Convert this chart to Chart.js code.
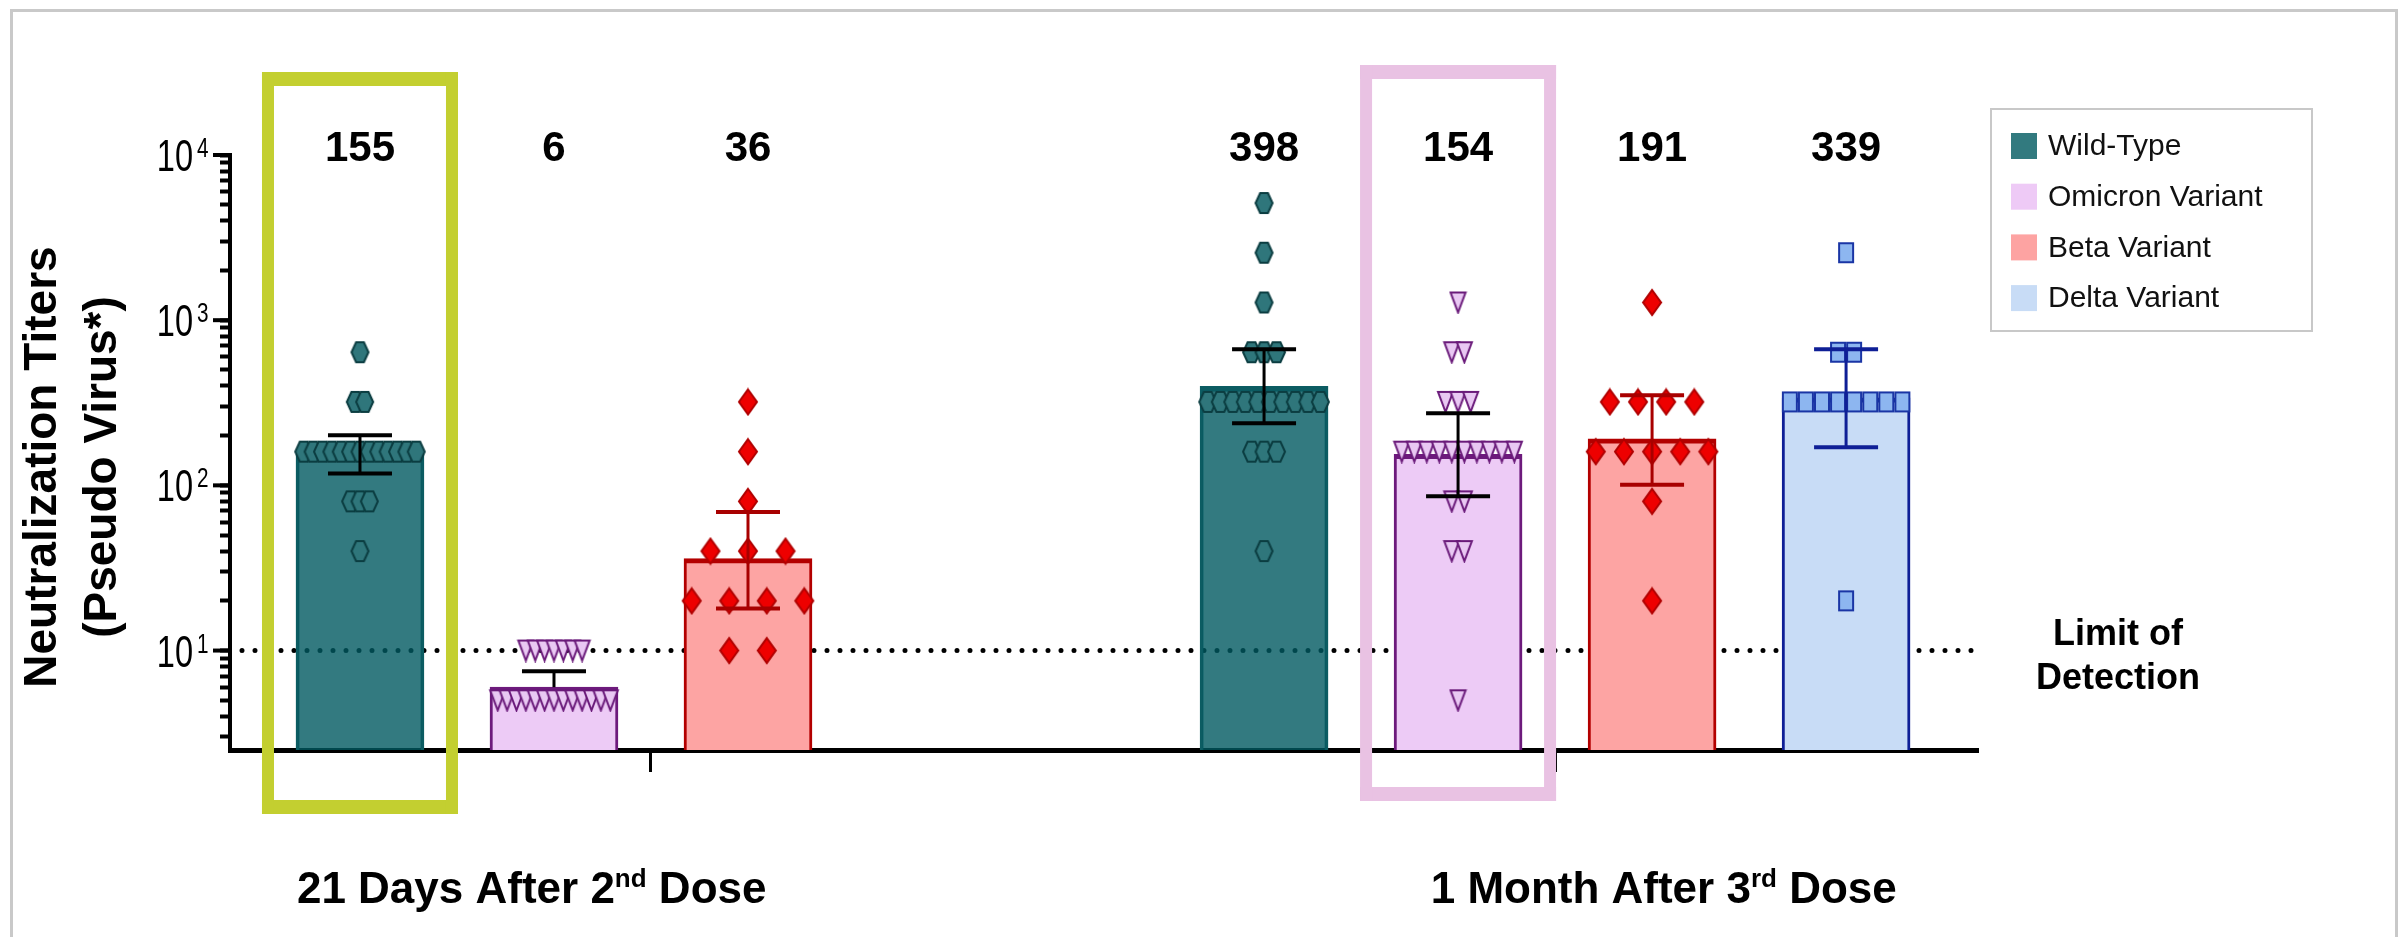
<!DOCTYPE html>
<html><head><meta charset="utf-8">
<script src="https://cdn.jsdelivr.net/npm/chart.js@4.4.1/dist/chart.umd.min.js"></script>
<style>
html,body{margin:0;padding:0;background:#fff;overflow:hidden;}
#wrap{position:relative;width:2407px;height:937px;}
#frame{position:absolute;left:10px;top:9px;width:2388px;height:1000px;border:3px solid #c9c9c9;box-sizing:border-box;pointer-events:none;}
canvas{position:absolute;left:0;top:0;}
</style></head><body>
<div id="wrap"><canvas id="c" width="2407" height="937"></canvas><div id="frame"></div></div>
<script>
// ---------- data ----------
const groups = ['21 Days After 2nd Dose', '1 Month After 3rd Dose'];
const groupLabelParts = [['21 Days After 2', 'nd', ' Dose'], ['1 Month After 3', 'rd', ' Dose']];
const seriesNames = ['Wild-Type', 'Omicron Variant', 'Beta Variant', 'Delta Variant'];

// geometric mean titers (bar heights, also printed above bars)
const wildTypeGMT = [155, 398];
const omicronGMT  = [6, 154];
const betaGMT     = [36, 191];
const deltaGMT    = [null, 339];

// error bar limits
const wildTypeErrLow = [118, 238], wildTypeErrHigh = [201, 667];
const omicronErrLow  = [6, 86],    omicronErrHigh  = [7.5, 273];
const betaErrLow     = [18, 101],  betaErrHigh     = [69, 351];
const deltaErrLow    = [null, 170], deltaErrHigh   = [null, 667];

// individual titers
const wildTypeDay21  = [640, 320, 320, 160, 160, 160, 160, 160, 160, 160, 160, 160, 160, 160, 160, 160, 80, 80, 80, 40];
const omicronDay21   = [10, 10, 10, 10, 10, 10, 10, 5, 5, 5, 5, 5, 5, 5, 5, 5, 5, 5, 5, 5];
const betaDay21      = [320, 160, 80, 40, 40, 40, 20, 20, 20, 20, 10, 10];
const wildTypeMonth1 = [5120, 2560, 1280, 640, 640, 640, 320, 320, 320, 320, 320, 320, 320, 320, 320, 320, 160, 160, 160, 40];
const omicronMonth1  = [1280, 640, 640, 320, 320, 320, 160, 160, 160, 160, 160, 160, 160, 160, 160, 160, 80, 80, 40, 40, 5];
const betaMonth1     = [1280, 320, 320, 320, 320, 160, 160, 160, 160, 160, 80, 20];
const deltaMonth1    = [2560, 640, 640, 320, 320, 320, 320, 320, 320, 320, 320, 20];

const lodValue = 10;
const lodLabel = ['Limit of', 'Detection'];
const yTickValues = [10, 100, 1000, 10000];
const yTickExponents = ['1', '2', '3', '4'];
const yTitle = ['Neutralization Titers', '(Pseudo Virus*)'];

// ---------- layout helpers ----------
const SERIES_PER_GROUP = 4, GROUP_GAP = 0.66, SPREAD = 0.58;
const slot = (g, s) => g * (SERIES_PER_GROUP + GROUP_GAP) + s;
const groupCenters = groups.map((_, g) => slot(g, (SERIES_PER_GROUP - 1) / 2));

const gmtBySeries = [wildTypeGMT, omicronGMT, betaGMT, deltaGMT];
const errLowBySeries = [wildTypeErrLow, omicronErrLow, betaErrLow, deltaErrLow];
const errHighBySeries = [wildTypeErrHigh, omicronErrHigh, betaErrHigh, deltaErrHigh];
const pointsBySeries = [[wildTypeDay21, wildTypeMonth1], [omicronDay21, omicronMonth1], [betaDay21, betaMonth1], [null, deltaMonth1]];

const barFill   = ['rgba(0,89,96,0.8)', '#edcbf6', '#fda4a3', '#c8dcf6'];
const barBorder = ['#0c5c62', '#6d1a7c', '#b30000', '#0f1f96'];
const legendFill = ['#327a7f', '#eecaf6', '#fda3a2', '#c8dcf6'];
const errColor  = ['#000000', '#000000', '#a80000', '#0f1f96'];
const markerSpecs = [
  {kind: 'hex',  w: 17, h: 20, fill: '#2f767b', stroke: '#0b3d41'},
  {kind: 'tri',  w: 15, h: 20, fill: '#e9c8f3', stroke: '#6a1a7a'},
  {kind: 'dia',  w: 18, h: 25, fill: '#ee0000', stroke: '#b00000'},
  {kind: 'rect', w: 14, h: 19, fill: '#8db6f0', stroke: '#1a35a5'}
];

function makeMarker(spec) {
  const pad = 2, c = document.createElement('canvas');
  c.width = spec.w + pad * 2; c.height = spec.h + pad * 2;
  const x = c.getContext('2d');
  const L = pad, T = pad, R = pad + spec.w, B = pad + spec.h, CX = pad + spec.w / 2, CY = pad + spec.h / 2;
  x.beginPath();
  if (spec.kind === 'hex') {
    const q = spec.w * 0.27;
    x.moveTo(L + q, T); x.lineTo(R - q, T); x.lineTo(R, CY); x.lineTo(R - q, B); x.lineTo(L + q, B); x.lineTo(L, CY);
  } else if (spec.kind === 'tri') {
    x.moveTo(L, T); x.lineTo(R, T); x.lineTo(CX, B);
  } else if (spec.kind === 'dia') {
    x.moveTo(CX, T); x.lineTo(R, CY); x.lineTo(CX, B); x.lineTo(L, CY);
  } else {
    x.rect(L, T, spec.w, spec.h);
  }
  x.closePath();
  x.fillStyle = spec.fill; x.fill();
  x.lineWidth = 2; x.strokeStyle = spec.stroke; x.lineJoin = 'miter'; x.stroke();
  return c;
}
const markers = markerSpecs.map(makeMarker);

function spreadPoints(values, center) {
  const counts = new Map();
  values.forEach(v => counts.set(v, (counts.get(v) || 0) + 1));
  const maxRow = Math.max(...counts.values());
  const step = maxRow > 1 ? SPREAD / (maxRow - 1) : 0;
  const out = [];
  counts.forEach((n, v) => {
    for (let k = 0; k < n; k++) out.push({x: center + (k - (n - 1) / 2) * step, y: v});
  });
  return out;
}

// ---------- datasets ----------
const datasets = [];
seriesNames.forEach((name, s) => {
  datasets.push({
    type: 'bar', label: name,
    data: groups.map((_, g) => gmtBySeries[s][g] == null ? null : {x: slot(g, s), y: gmtBySeries[s][g]}).filter(d => d),
    backgroundColor: barFill[s], borderColor: barBorder[s],
    borderWidth: {top: 5, left: 3, right: 3, bottom: 0}, borderSkipped: 'start',
    barThickness: 128, grouped: false, order: 3
  });
});
seriesNames.forEach((name, s) => {
  groups.forEach((_, g) => {
    const vals = pointsBySeries[s][g];
    if (!vals) return;
    datasets.push({
      type: 'scatter', label: name + ' points', data: spreadPoints(vals, slot(g, s)),
      pointStyle: markers[s], pointRadius: 8, order: 1
    });
  });
});

const FONT = '"Liberation Sans", Arial, sans-serif';

const decor = {
  id: 'decor',
  beforeDatasetsDraw(chart) {
    const {ctx, chartArea: a, scales: {y}} = chart;
    const py = y.getPixelForValue(lodValue);
    ctx.save();
    ctx.strokeStyle = '#000'; ctx.lineWidth = 5; ctx.lineCap = 'round'; ctx.setLineDash([0, 13]);
    ctx.beginPath(); ctx.moveTo(a.left + 12, py); ctx.lineTo(a.right, py); ctx.stroke();
    ctx.restore();
  },
  afterDatasetsDraw(chart) {
    const {ctx, scales: {x, y}} = chart;
    ctx.save();
    seriesNames.forEach((_, s) => groups.forEach((__, g) => {
      const lo = errLowBySeries[s][g], hi = errHighBySeries[s][g];
      if (lo == null) return;
      const px = x.getPixelForValue(slot(g, s));
      const yl = y.getPixelForValue(lo), yh = y.getPixelForValue(hi), ym = y.getPixelForValue(gmtBySeries[s][g]);
      ctx.strokeStyle = errColor[s];
      ctx.lineWidth = 3;
      ctx.beginPath(); ctx.moveTo(px, yl); ctx.lineTo(px, yh); ctx.stroke();
      ctx.lineWidth = 4;
      ctx.beginPath(); ctx.moveTo(px - 32, yh); ctx.lineTo(px + 32, yh);
      if (Math.abs(yl - ym) > 2) { ctx.moveTo(px - 32, yl); ctx.lineTo(px + 32, yl); }
      ctx.stroke();
    }));
    ctx.restore();
  },
  afterDraw(chart) {
    const {ctx, chartArea: a, scales: {x, y}} = chart;
    ctx.save();
    // y axis title
    ctx.fillStyle = '#000'; ctx.font = 'bold 46px ' + FONT; ctx.textAlign = 'center'; ctx.textBaseline = 'middle';
    [43, 103].forEach((tx, i) => {
      ctx.save(); ctx.translate(tx, 467); ctx.rotate(-Math.PI / 2); ctx.fillText(yTitle[i], 0, 0); ctx.restore();
    });
    // major y ticks
    ctx.strokeStyle = '#000'; ctx.lineWidth = 4;
    yTickValues.forEach(v => {
      const py = y.getPixelForValue(v);
      ctx.beginPath(); ctx.moveTo(a.left - 17, py); ctx.lineTo(a.left, py); ctx.stroke();
    });
    // y tick labels 10^n
    yTickValues.forEach((v, i) => {
      const py = y.getPixelForValue(v);
      ctx.save(); ctx.translate(193, py + 16); ctx.scale(0.74, 1);
      ctx.font = '44px ' + FONT; ctx.textAlign = 'right'; ctx.textBaseline = 'alphabetic';
      ctx.fillText('10', 0, 0); ctx.restore();
      ctx.save(); ctx.translate(197, py + 2); ctx.scale(0.74, 1);
      ctx.font = '28px ' + FONT; ctx.textAlign = 'left'; ctx.textBaseline = 'alphabetic';
      ctx.fillText(yTickExponents[i], 0, 0); ctx.restore();
    });
    // GMT value labels
    ctx.font = 'bold 42px ' + FONT; ctx.textAlign = 'center'; ctx.textBaseline = 'alphabetic';
    const labelY = y.getPixelForValue(10000) + 6;
    seriesNames.forEach((_, s) => groups.forEach((__, g) => {
      const v = gmtBySeries[s][g];
      if (v == null) return;
      ctx.fillText(String(v), x.getPixelForValue(slot(g, s)), labelY);
    }));
    // group labels with superscripts
    const anchors = [slot(0, 0.885), slot(1, 2.06)];
    groupLabelParts.forEach((parts, g) => {
      const fonts = ['bold 44px ' + FONT, 'bold 26px ' + FONT, 'bold 44px ' + FONT];
      const dy = [0, -16, 0];
      let total = 0;
      const widths = parts.map((p, i) => { ctx.font = fonts[i]; const w = ctx.measureText(p).width; total += w; return w; });
      let cx = x.getPixelForValue(anchors[g]) - total / 2;
      ctx.textAlign = 'left';
      parts.forEach((p, i) => { ctx.font = fonts[i]; ctx.fillText(p, cx, 903 + dy[i]); cx += widths[i]; });
    });
    // limit of detection text
    ctx.font = 'bold 36px ' + FONT; ctx.textAlign = 'center';
    ctx.fillText(lodLabel[0], 2118, 645);
    ctx.fillText(lodLabel[1], 2118, 689);
    // legend
    ctx.strokeStyle = '#c8c8c8'; ctx.lineWidth = 2;
    ctx.strokeRect(1991, 109, 321, 222);
    ctx.font = '30px ' + FONT; ctx.textBaseline = 'middle'; ctx.textAlign = 'left';
    seriesNames.forEach((name, s) => {
      const cy = 146 + s * 50.7;
      ctx.fillStyle = legendFill[s]; ctx.fillRect(2011, cy - 13, 26, 26);
      ctx.fillStyle = '#111'; ctx.fillText(name, 2048, cy + 1);
    });
    // highlight boxes
    const boxes = [{g: 0, s: 0, color: '#c3cf30', top: 72, bottom: 814}, {g: 1, s: 1, color: '#e9c2e3', top: 65, bottom: 801}];
    boxes.forEach(b => {
      const cx = x.getPixelForValue(slot(b.g, b.s));
      const l = cx - 98, r = cx + 98;
      ctx.fillStyle = b.color;
      ctx.fillRect(l, b.top, r - l, 14);
      ctx.fillRect(l, b.bottom - 14, r - l, 14);
      ctx.fillRect(l, b.top, 12, b.bottom - b.top);
      ctx.fillRect(r - 12, b.top, 12, b.bottom - b.top);
    });
    ctx.restore();
  }
};

new Chart(document.getElementById('c'), {
  type: 'bar',
  data: {datasets},
  plugins: [decor],
  options: {
    responsive: false, animation: false, devicePixelRatio: 1,
    layout: {padding: {left: 10, top: 155, right: 429, bottom: 0}},
    plugins: {legend: {display: false}, tooltip: {enabled: false}},
    scales: {
      x: {
        type: 'linear', min: -0.67, max: 8.34, offset: false,
        grid: {display: true, offset: false, drawOnChartArea: false, drawTicks: true, tickLength: 22, tickWidth: 3, tickColor: '#000', color: '#000'},
        border: {display: true, width: 5, color: '#000'},
        ticks: {display: false},
        afterBuildTicks: s => { s.ticks = groupCenters.map(v => ({value: v})); },
        afterFit: s => { s.height = 937 - 750; }
      },
      y: {
        type: 'logarithmic', min: 2.5, max: 10000,
        grid: {display: true, drawOnChartArea: false, drawTicks: true, tickLength: 10, tickWidth: 4, tickColor: '#000', color: '#000'},
        border: {display: true, width: 4, color: '#000'},
        ticks: {display: false},
        title: {display: false, text: yTitle},
        afterBuildTicks: s => {
          const t = [];
          [1, 10, 100, 1000].forEach(d => { for (let m = 1; m <= 9; m++) { const v = m * d; if (v >= 3 && v <= 10000) t.push({value: v}); } });
          t.push({value: 10000});
          s.ticks = t;
        },
        afterFit: s => { s.width = 220; }
      }
    }
  }
});
</script>
</body></html>
